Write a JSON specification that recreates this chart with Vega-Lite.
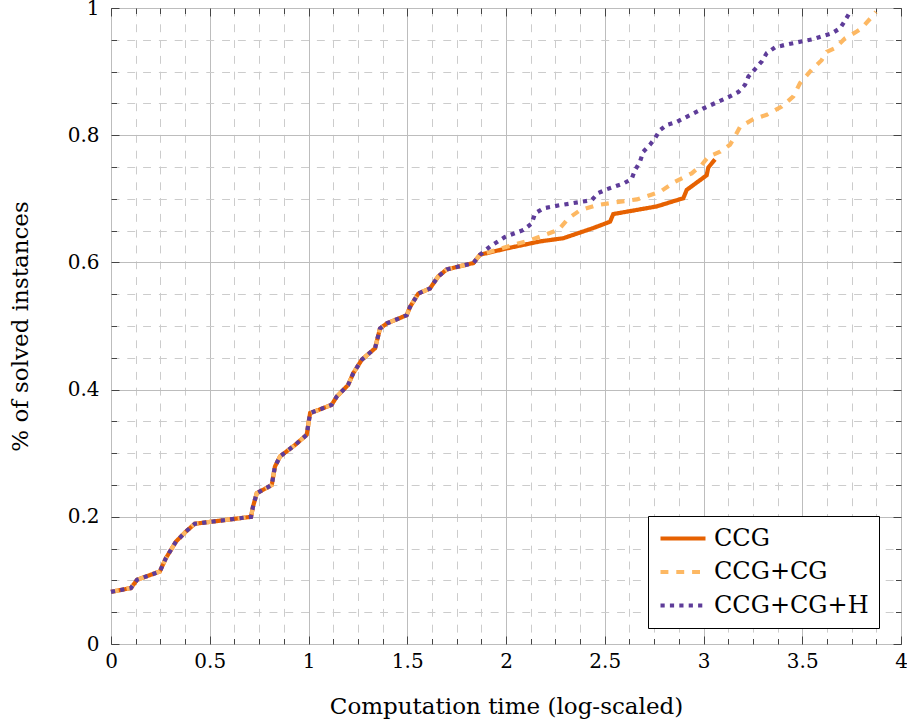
{
  "$schema": "https://vega.github.io/schema/vega-lite/v6.json",
  "width": 790,
  "height": 636,
  "autosize": {"type": "none"},
  "padding": {"left": 111, "top": 8, "right": 6, "bottom": 83},
  "background": "white",
  "config": {"view": {"stroke": "black", "strokeWidth": 1}, "font": "DejaVu Serif"},
  "data": {"values": [
    {"s":"CCG","t":0,"p":0.082},{"s":"CCG","t":0.101,"p":0.088},{"s":"CCG","t":0.132,"p":0.101},{"s":"CCG","t":0.247,"p":0.114},{"s":"CCG","t":0.278,"p":0.135},{"s":"CCG","t":0.329,"p":0.161},{"s":"CCG","t":0.38,"p":0.177},{"s":"CCG","t":0.424,"p":0.189},{"s":"CCG","t":0.709,"p":0.2},{"s":"CCG","t":0.719,"p":0.216},{"s":"CCG","t":0.738,"p":0.237},{"s":"CCG","t":0.814,"p":0.25},{"s":"CCG","t":0.83,"p":0.279},{"s":"CCG","t":0.856,"p":0.295},{"s":"CCG","t":0.932,"p":0.313},{"s":"CCG","t":0.991,"p":0.329},{"s":"CCG","t":1.008,"p":0.363},{"s":"CCG","t":1.117,"p":0.376},{"s":"CCG","t":1.143,"p":0.389},{"s":"CCG","t":1.2,"p":0.407},{"s":"CCG","t":1.227,"p":0.426},{"s":"CCG","t":1.27,"p":0.447},{"s":"CCG","t":1.337,"p":0.465},{"s":"CCG","t":1.362,"p":0.496},{"s":"CCG","t":1.396,"p":0.504},{"s":"CCG","t":1.497,"p":0.517},{"s":"CCG","t":1.514,"p":0.53},{"s":"CCG","t":1.556,"p":0.551},{"s":"CCG","t":1.615,"p":0.559},{"s":"CCG","t":1.657,"p":0.578},{"s":"CCG","t":1.7,"p":0.589},{"s":"CCG","t":1.835,"p":0.599},{"s":"CCG","t":1.868,"p":0.612},
    {"s":"CCG","t":2.004,"p":0.622},{"s":"CCG","t":2.172,"p":0.633},{"s":"CCG","t":2.29,"p":0.638},{"s":"CCG","t":2.442,"p":0.654},{"s":"CCG","t":2.527,"p":0.664},{"s":"CCG","t":2.543,"p":0.676},{"s":"CCG","t":2.763,"p":0.688},{"s":"CCG","t":2.898,"p":0.701},{"s":"CCG","t":2.915,"p":0.714},{"s":"CCG","t":3.016,"p":0.737},{"s":"CCG","t":3.024,"p":0.749},{"s":"CCG","t":3.058,"p":0.762},
    {"s":"CCG+CG","t":0,"p":0.082},{"s":"CCG+CG","t":0.101,"p":0.088},{"s":"CCG+CG","t":0.132,"p":0.101},{"s":"CCG+CG","t":0.247,"p":0.114},{"s":"CCG+CG","t":0.278,"p":0.135},{"s":"CCG+CG","t":0.329,"p":0.161},{"s":"CCG+CG","t":0.38,"p":0.177},{"s":"CCG+CG","t":0.424,"p":0.189},{"s":"CCG+CG","t":0.709,"p":0.2},{"s":"CCG+CG","t":0.719,"p":0.216},{"s":"CCG+CG","t":0.738,"p":0.237},{"s":"CCG+CG","t":0.814,"p":0.25},{"s":"CCG+CG","t":0.83,"p":0.279},{"s":"CCG+CG","t":0.856,"p":0.295},{"s":"CCG+CG","t":0.932,"p":0.313},{"s":"CCG+CG","t":0.991,"p":0.329},{"s":"CCG+CG","t":1.008,"p":0.363},{"s":"CCG+CG","t":1.117,"p":0.376},{"s":"CCG+CG","t":1.143,"p":0.389},{"s":"CCG+CG","t":1.2,"p":0.407},{"s":"CCG+CG","t":1.227,"p":0.426},{"s":"CCG+CG","t":1.27,"p":0.447},{"s":"CCG+CG","t":1.337,"p":0.465},{"s":"CCG+CG","t":1.362,"p":0.496},{"s":"CCG+CG","t":1.396,"p":0.504},{"s":"CCG+CG","t":1.497,"p":0.517},{"s":"CCG+CG","t":1.514,"p":0.53},{"s":"CCG+CG","t":1.556,"p":0.551},{"s":"CCG+CG","t":1.615,"p":0.559},{"s":"CCG+CG","t":1.657,"p":0.578},{"s":"CCG+CG","t":1.7,"p":0.589},{"s":"CCG+CG","t":1.835,"p":0.599},{"s":"CCG+CG","t":1.868,"p":0.612},
    {"s":"CCG+CG","t":2.02,"p":0.626},{"s":"CCG+CG","t":2.122,"p":0.635},{"s":"CCG+CG","t":2.265,"p":0.651},{"s":"CCG+CG","t":2.315,"p":0.669},{"s":"CCG+CG","t":2.375,"p":0.682},{"s":"CCG+CG","t":2.459,"p":0.69},{"s":"CCG+CG","t":2.543,"p":0.694},{"s":"CCG+CG","t":2.662,"p":0.699},{"s":"CCG+CG","t":2.78,"p":0.711},{"s":"CCG+CG","t":2.856,"p":0.727},{"s":"CCG+CG","t":2.94,"p":0.74},{"s":"CCG+CG","t":2.99,"p":0.753},{"s":"CCG+CG","t":3.024,"p":0.766},{"s":"CCG+CG","t":3.084,"p":0.774},{"s":"CCG+CG","t":3.134,"p":0.785},{"s":"CCG+CG","t":3.159,"p":0.798},{"s":"CCG+CG","t":3.185,"p":0.813},{"s":"CCG+CG","t":3.252,"p":0.825},{"s":"CCG+CG","t":3.32,"p":0.832},{"s":"CCG+CG","t":3.396,"p":0.845},{"s":"CCG+CG","t":3.455,"p":0.861},{"s":"CCG+CG","t":3.489,"p":0.882},{"s":"CCG+CG","t":3.548,"p":0.903},{"s":"CCG+CG","t":3.598,"p":0.918},{"s":"CCG+CG","t":3.624,"p":0.931},{"s":"CCG+CG","t":3.666,"p":0.937},{"s":"CCG+CG","t":3.716,"p":0.952},{"s":"CCG+CG","t":3.776,"p":0.963},{"s":"CCG+CG","t":3.8,"p":0.968},{"s":"CCG+CG","t":3.852,"p":0.986},{"s":"CCG+CG","t":3.873,"p":0.994},
    {"s":"CCG+CG+H","t":0,"p":0.082},{"s":"CCG+CG+H","t":0.101,"p":0.088},{"s":"CCG+CG+H","t":0.132,"p":0.101},{"s":"CCG+CG+H","t":0.247,"p":0.114},{"s":"CCG+CG+H","t":0.278,"p":0.135},{"s":"CCG+CG+H","t":0.329,"p":0.161},{"s":"CCG+CG+H","t":0.38,"p":0.177},{"s":"CCG+CG+H","t":0.424,"p":0.189},{"s":"CCG+CG+H","t":0.709,"p":0.2},{"s":"CCG+CG+H","t":0.719,"p":0.216},{"s":"CCG+CG+H","t":0.738,"p":0.237},{"s":"CCG+CG+H","t":0.814,"p":0.25},{"s":"CCG+CG+H","t":0.83,"p":0.279},{"s":"CCG+CG+H","t":0.856,"p":0.295},{"s":"CCG+CG+H","t":0.932,"p":0.313},{"s":"CCG+CG+H","t":0.991,"p":0.329},{"s":"CCG+CG+H","t":1.008,"p":0.363},{"s":"CCG+CG+H","t":1.117,"p":0.376},{"s":"CCG+CG+H","t":1.143,"p":0.389},{"s":"CCG+CG+H","t":1.2,"p":0.407},{"s":"CCG+CG+H","t":1.227,"p":0.426},{"s":"CCG+CG+H","t":1.27,"p":0.447},{"s":"CCG+CG+H","t":1.337,"p":0.465},{"s":"CCG+CG+H","t":1.362,"p":0.496},{"s":"CCG+CG+H","t":1.396,"p":0.504},{"s":"CCG+CG+H","t":1.497,"p":0.517},{"s":"CCG+CG+H","t":1.514,"p":0.53},{"s":"CCG+CG+H","t":1.556,"p":0.551},{"s":"CCG+CG+H","t":1.615,"p":0.559},{"s":"CCG+CG+H","t":1.657,"p":0.578},{"s":"CCG+CG+H","t":1.7,"p":0.589},{"s":"CCG+CG+H","t":1.835,"p":0.599},{"s":"CCG+CG+H","t":1.868,"p":0.612},
    {"s":"CCG+CG+H","t":1.919,"p":0.625},{"s":"CCG+CG+H","t":1.995,"p":0.64},{"s":"CCG+CG+H","t":2.088,"p":0.651},{"s":"CCG+CG+H","t":2.13,"p":0.661},{"s":"CCG+CG+H","t":2.147,"p":0.677},{"s":"CCG+CG+H","t":2.189,"p":0.685},{"s":"CCG+CG+H","t":2.273,"p":0.69},{"s":"CCG+CG+H","t":2.375,"p":0.695},{"s":"CCG+CG+H","t":2.434,"p":0.698},{"s":"CCG+CG+H","t":2.467,"p":0.709},{"s":"CCG+CG+H","t":2.51,"p":0.715},{"s":"CCG+CG+H","t":2.594,"p":0.724},{"s":"CCG+CG+H","t":2.636,"p":0.731},{"s":"CCG+CG+H","t":2.653,"p":0.745},{"s":"CCG+CG+H","t":2.678,"p":0.758},{"s":"CCG+CG+H","t":2.695,"p":0.774},{"s":"CCG+CG+H","t":2.729,"p":0.785},{"s":"CCG+CG+H","t":2.754,"p":0.795},{"s":"CCG+CG+H","t":2.78,"p":0.808},{"s":"CCG+CG+H","t":2.813,"p":0.816},{"s":"CCG+CG+H","t":2.864,"p":0.821},{"s":"CCG+CG+H","t":2.915,"p":0.829},{"s":"CCG+CG+H","t":2.999,"p":0.842},{"s":"CCG+CG+H","t":3.084,"p":0.854},{"s":"CCG+CG+H","t":3.134,"p":0.861},{"s":"CCG+CG+H","t":3.177,"p":0.868},{"s":"CCG+CG+H","t":3.21,"p":0.879},{"s":"CCG+CG+H","t":3.227,"p":0.892},{"s":"CCG+CG+H","t":3.261,"p":0.904},{"s":"CCG+CG+H","t":3.295,"p":0.916},{"s":"CCG+CG+H","t":3.32,"p":0.929},{"s":"CCG+CG+H","t":3.362,"p":0.938},{"s":"CCG+CG+H","t":3.413,"p":0.942},{"s":"CCG+CG+H","t":3.505,"p":0.948},{"s":"CCG+CG+H","t":3.556,"p":0.951},{"s":"CCG+CG+H","t":3.606,"p":0.956},{"s":"CCG+CG+H","t":3.649,"p":0.96},{"s":"CCG+CG+H","t":3.691,"p":0.968},{"s":"CCG+CG+H","t":3.716,"p":0.98},{"s":"CCG+CG+H","t":3.735,"p":0.99}
  ]},
  "layer": [
    {
      "encoding": {
        "x": {"field": "t", "type": "quantitative",
          "scale": {"domain": [0, 4], "nice": false, "zero": false},
          "axis": {
            "orient": "bottom",
            "values": [0,0.125,0.25,0.375,0.5,0.625,0.75,0.875,1,1.125,1.25,1.375,1.5,1.625,1.75,1.875,2,2.125,2.25,2.375,2.5,2.625,2.75,2.875,3,3.125,3.25,3.375,3.5,3.625,3.75,3.875,4],
            "domain": false, "ticks": false,
            "labelExpr": "abs(datum.value*2-round(datum.value*2))<0.001 ? format(datum.value,'~g') : ''",
            "labelFont": "DejaVu Serif", "labelFontSize": 20, "labelColor": "black", "labelPadding": 7,
            "labelFlush": false, "labelOverlap": false,
            "title": "Computation time (log-scaled)", "titleFont": "DejaVu Serif", "titleFontSize": 23,
            "titleFontWeight": "normal", "titleColor": "black", "titleY": 69, "titleBaseline": "alphabetic",
            "grid": true, "gridWidth": 1,
            "gridColor": {"condition": {"test": "abs(datum.value*2-round(datum.value*2))<0.001", "value": "#bdbdbd"}, "value": "#cccccc"},
            "gridDash": {"condition": {"test": "abs(datum.value*2-round(datum.value*2))<0.001", "value": []}, "value": [7.9, 7.9]}
          }},
        "y": {"field": "p", "type": "quantitative",
          "scale": {"domain": [0, 1], "nice": false, "zero": false},
          "axis": {
            "orient": "left",
            "values": [0,0.05,0.1,0.15,0.2,0.25,0.3,0.35,0.4,0.45,0.5,0.55,0.6,0.65,0.7,0.75,0.8,0.85,0.9,0.95,1],
            "domain": false, "ticks": false,
            "labelExpr": "abs(datum.value*5-round(datum.value*5))<0.001 ? format(datum.value,'~g') : ''",
            "labelFont": "DejaVu Serif", "labelFontSize": 20, "labelColor": "black", "labelPadding": 12,
            "labelFlush": false, "labelOverlap": false,
            "title": "% of solved instances", "titleFont": "DejaVu Serif", "titleFontSize": 23,
            "titleFontWeight": "normal", "titleColor": "black", "titleX": -84, "titleY": 318, "titleBaseline": "alphabetic",
            "grid": true, "gridWidth": 1,
            "gridColor": {"condition": {"test": "abs(datum.value*5-round(datum.value*5))<0.001", "value": "#bdbdbd"}, "value": "#cccccc"},
            "gridDash": {"condition": {"test": "abs(datum.value*5-round(datum.value*5))<0.001", "value": []}, "value": [7.9, 7.9]}
          }},
        "color": {"field": "s", "type": "nominal",
          "scale": {"domain": ["CCG", "CCG+CG", "CCG+CG+H"], "range": ["#e66101", "#fdb863", "#5e3c99"]},
          "legend": {"title": null, "orient": "none", "legendX": 537, "legendY": 508, "symbolType": "M-1,0L3.5,0", "symbolSize": 400,
            "symbolStrokeWidth": 4.2, "labelFont": "DejaVu Serif", "labelFontSize": 24, "labelColor": "black",
            "strokeColor": "black", "fillColor": "white", "padding": 10, "rowPadding": 8.5, "labelOffset": 31, "labelLimit": 0, "cornerRadius": 0}},
        "strokeDash": {"field": "s", "type": "nominal",
          "scale": {"domain": ["CCG", "CCG+CG", "CCG+CG+H"], "range": [[1, 0], [7.9, 7.9], [4.2, 5.2]]},
          "legend": {"title": null, "orient": "none", "legendX": 537, "legendY": 508, "symbolType": "M-1,0L3.5,0", "symbolSize": 400,
            "symbolStrokeWidth": 4.2, "labelFont": "DejaVu Serif", "labelFontSize": 24, "labelColor": "black",
            "strokeColor": "black", "fillColor": "white", "padding": 10, "rowPadding": 8.5, "labelOffset": 31, "labelLimit": 0, "cornerRadius": 0}}
      },
      "layer": [
        {"transform": [{"filter": "datum.s === 'CCG'"}], "mark": {"type": "line", "strokeWidth": 4.2, "strokeCap": "butt", "strokeJoin": "miter"}},
        {"transform": [{"filter": "datum.s === 'CCG+CG'"}], "mark": {"type": "line", "strokeWidth": 4.2, "strokeCap": "butt", "strokeJoin": "miter"}},
        {"transform": [{"filter": "datum.s === 'CCG+CG+H'"}], "mark": {"type": "line", "strokeWidth": 4.2, "strokeCap": "butt", "strokeJoin": "miter"}}
      ]
    },
    {
      "mark": {"type": "point", "opacity": 0},
      "encoding": {
        "x": {"field": "t", "type": "quantitative",
          "scale": {"domain": [0, 4], "nice": false, "zero": false},
          "axis": {"orient": "top", "values": [0,0.125,0.25,0.375,0.5,0.625,0.75,0.875,1,1.125,1.25,1.375,1.5,1.625,1.75,1.875,2,2.125,2.25,2.375,2.5,2.625,2.75,2.875,3,3.125,3.25,3.375,3.5,3.625,3.75,3.875,4],
            "labels": false, "grid": false, "domain": false, "ticks": true, "title": null, "tickColor": "#444444", "tickWidth": 1,
            "tickSize": {"condition": {"test": "abs(datum.value*2-round(datum.value*2))<0.001", "value": -8}, "value": -5.5}}},
        "y": {"field": "p", "type": "quantitative",
          "scale": {"domain": [0, 1], "nice": false, "zero": false},
          "axis": {"orient": "right", "values": [0,0.05,0.1,0.15,0.2,0.25,0.3,0.35,0.4,0.45,0.5,0.55,0.6,0.65,0.7,0.75,0.8,0.85,0.9,0.95,1],
            "labels": false, "grid": false, "domain": false, "ticks": true, "title": null, "tickColor": "#444444", "tickWidth": 1,
            "tickSize": {"condition": {"test": "abs(datum.value*5-round(datum.value*5))<0.001", "value": -8}, "value": -5.5}}}
      }
    },
    {
      "mark": {"type": "point", "opacity": 0},
      "encoding": {
        "x": {"field": "t", "type": "quantitative",
          "scale": {"domain": [0, 4], "nice": false, "zero": false},
          "axis": {"orient": "bottom", "values": [0,0.125,0.25,0.375,0.5,0.625,0.75,0.875,1,1.125,1.25,1.375,1.5,1.625,1.75,1.875,2,2.125,2.25,2.375,2.5,2.625,2.75,2.875,3,3.125,3.25,3.375,3.5,3.625,3.75,3.875,4],
            "labels": false, "grid": false, "domain": false, "ticks": true, "title": null, "tickColor": "#444444", "tickWidth": 1,
            "tickSize": {"condition": {"test": "abs(datum.value*2-round(datum.value*2))<0.001", "value": -8}, "value": -5.5}}},
        "y": {"field": "p", "type": "quantitative",
          "scale": {"domain": [0, 1], "nice": false, "zero": false},
          "axis": {"orient": "left", "values": [0,0.05,0.1,0.15,0.2,0.25,0.3,0.35,0.4,0.45,0.5,0.55,0.6,0.65,0.7,0.75,0.8,0.85,0.9,0.95,1],
            "labels": false, "grid": false, "domain": false, "ticks": true, "title": null, "tickColor": "#444444", "tickWidth": 1,
            "tickSize": {"condition": {"test": "abs(datum.value*5-round(datum.value*5))<0.001", "value": -8}, "value": -5.5}}}
      }
    }
  ],
  "resolve": {"axis": {"x": "independent", "y": "independent"}}
}
